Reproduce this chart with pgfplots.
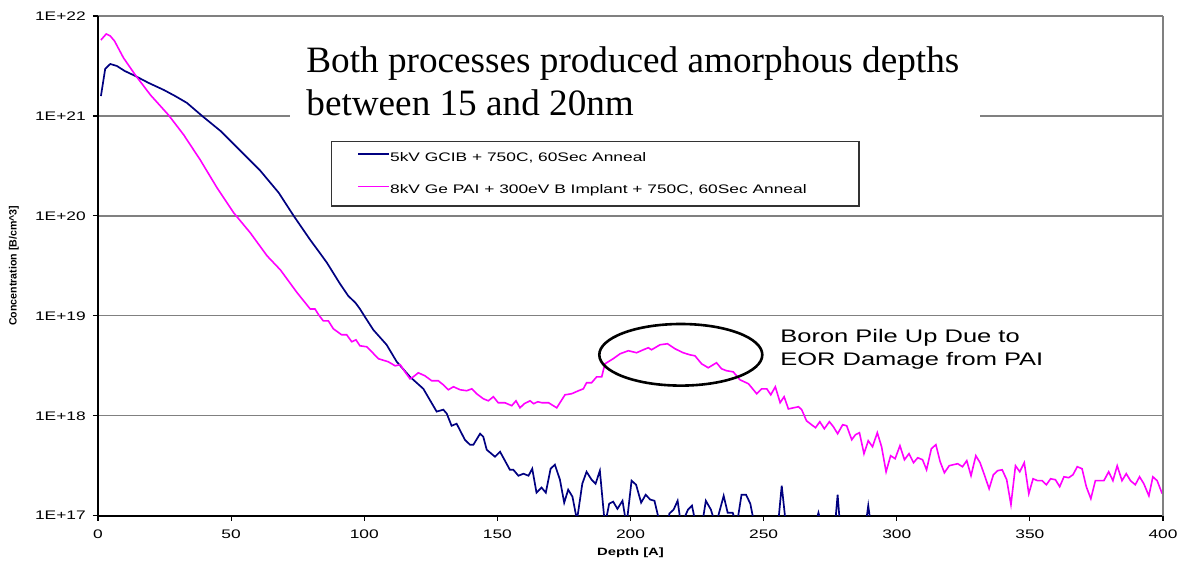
\documentclass[border=0pt]{standalone}
\usepackage{fontspec}
\setmainfont{Liberation Sans}
\usepackage{pgfplots}
\pgfplotsset{compat=1.18}
\newfontfamily\ax[FakeStretch=1.4]{Liberation Sans}
\newfontfamily\tnr{Liberation Serif}
\definecolor{navyc}{RGB}{0,0,128}
\definecolor{magc}{RGB}{255,0,255}
\definecolor{grd}{RGB}{128,128,128}

\pgfplotstableread{
x y
1.1 1.58e21
2.7 2.95e21
4.6 3.31e21
7.1 3.16e21
10 2.82e21
14 2.51e21
19 2.14e21
24.7 1.82e21
29 1.58e21
33.4 1.35e21
39.1 1.0e21
46 7.08e20
53.5 4.47e20
61 2.82e20
67.9 1.70e20
73.5 1.0e20
79.7 5.75e19
83 4.37e19
86 3.39e19
90.9 2.09e19
94 1.58e19
96.7 1.35e19
98.4 1.17e19
100 1.0e19
103.4 7.24e18
108.4 5.13e18
112.2 3.47e18
117.2 2.45e18
122.2 1.86e18
127.2 1.10e18
129.7 1.15e18
131 1.05e18
132.8 7.94e17
134.7 8.32e17
137.8 5.75e17
139.7 5.13e17
141 5.13e17
143.5 6.61e17
144.7 6.17e17
146 4.57e17
149.1 3.89e17
151 4.37e17
154.7 2.88e17
156 2.88e17
157.9 2.51e17
159.8 2.63e17
161.7 2.51e17
163.1 2.95e17
164.7 1.70e17
166.6 1.91e17
168.2 1.70e17
170 2.95e17
171.6 3.24e17
173.5 2.29e17
175.1 1.35e17
176.6 1.82e17
178.2 1.55e17
179.9 9e16
181.9 2.09e17
183.5 2.75e17
185.4 2.29e17
186.9 2.09e17
188.5 2.82e17
190.4 8e16
192 1.32e17
193.5 1.38e17
195.1 1.17e17
197 1.41e17
198.5 8e16
200.4 2.24e17
202.1 2.04e17
204 1.35e17
205.7 1.62e17
207.4 1.45e17
209 1.41e17
211.2 8e16
213 6e16
214.6 1.05e17
216.2 1.15e17
217.7 1.41e17
219 8e16
221.6 1.15e17
223.1 1.26e17
224.6 8e16
226.5 7e16
228.3 1.41e17
230.2 1.15e17
232 8e16
235 1.58e17
236.5 1.07e17
238.4 1.07e17
239.9 8e16
241.7 1.62e17
243.4 1.62e17
245 1.32e17
246.6 8e16
248.5 5e16
251 6e16
253.5 5e16
255.4 8e16
256.8 2.0e17
258.4 8e16
260 5e16
264 6e16
269.3 8e16
270.6 1.07e17
271.8 8e16
274 5e16
276.8 8e16
277.8 1.62e17
278.7 8e16
281 5e16
284 6e16
288.3 8e16
289.3 1.26e17
290.3 8e16
293 5e16
296 6e16
300 5e16
}\gcib

\pgfplotstableread{
x y
1.1 5.75e21
3.1 6.61e21
4.6 6.31e21
6.2 5.62e21
9.6 3.80e21
14 2.57e21
19.7 1.62e21
26.5 1.02e21
32.2 6.46e20
38.4 3.63e20
44.7 1.91e20
51 1.07e20
57.2 6.76e19
63.5 3.98e19
68.5 2.88e19
74.8 1.70e19
79.7 1.17e19
81.5 1.17e19
82.9 1.02e19
84.6 8.91e18
86.5 8.91e18
88.4 7.41e18
91.5 6.46e18
93.4 6.46e18
95.3 5.50e18
96.9 5.75e18
98.4 5.01e18
100.9 4.90e18
102.8 4.37e18
105.3 3.72e18
109 3.47e18
111.6 3.16e18
113.5 3.24e18
115.3 2.75e18
117.2 2.34e18
118.4 2.45e18
120.3 2.69e18
122.8 2.51e18
125.3 2.24e18
127.8 2.24e18
129.7 2.04e18
131.6 1.82e18
133.5 1.95e18
136 1.82e18
138.5 1.78e18
140.4 1.86e18
142.2 1.66e18
144.7 1.48e18
146.6 1.41e18
148.5 1.55e18
150.3 1.35e18
152.8 1.35e18
155.4 1.26e18
157 1.41e18
158.5 1.20e18
160.1 1.32e18
162.3 1.41e18
163.6 1.32e18
165.2 1.38e18
166.7 1.35e18
169.2 1.35e18
172.3 1.20e18
175.4 1.62e18
177.9 1.66e18
180.5 1.78e18
182.3 1.86e18
183.5 2.14e18
185.4 2.14e18
187.3 2.45e18
189.2 2.45e18
190.4 3.31e18
193.5 3.72e18
196.1 4.17e18
199.2 4.47e18
202.3 4.27e18
204.8 4.57e18
206.7 4.79e18
207.9 4.57e18
211.1 5.13e18
213.9 5.25e18
216.7 4.68e18
219.8 4.27e18
222.3 4.07e18
224.2 3.98e18
226.7 3.31e18
229.2 3.02e18
232.3 3.39e18
234.2 2.95e18
236.1 2.82e18
238.6 2.75e18
241.1 2.29e18
244.3 2.09e18
247.4 1.66e18
249.3 1.86e18
251.2 1.86e18
252.7 1.62e18
254.4 1.95e18
256.2 1.35e18
257.7 1.55e18
259.3 1.17e18
261.2 1.20e18
263.1 1.23e18
264.3 1.15e18
266.1 8.91e17
268 8.13e17
269.5 7.59e17
271.1 8.71e17
272.8 7.41e17
274.7 8.71e17
276.2 7.76e17
277.8 6.61e17
279.7 8.13e17
281.2 7.94e17
283.1 5.75e17
284.5 6.46e17
286 6.76e17
287.7 4.17e17
289.3 5.62e17
290.9 4.90e17
292.7 6.76e17
294.3 4.90e17
296 2.75e17
297.7 3.98e17
299.4 3.72e17
301.2 5.01e17
302.9 3.63e17
304.6 4.17e17
306.3 3.39e17
307.9 3.80e17
309.7 3.63e17
311.2 2.88e17
313 4.68e17
314.7 5.13e17
316.3 3.47e17
317.9 2.69e17
319.7 3.16e17
321.3 3.24e17
322.9 3.31e17
324.7 3.09e17
326.3 3.55e17
327.9 2.51e17
329.7 3.98e17
331.3 3.39e17
332.9 2.57e17
334.7 1.86e17
336.3 2.57e17
337.9 2.82e17
339.6 2.88e17
341.3 2.29e17
342.9 1.29e17
344.6 3.16e17
346.2 2.75e17
347.9 3.39e17
349.6 1.66e17
351.2 2.34e17
352.9 2.24e17
354.6 2.24e17
356.2 2.04e17
357.8 2.34e17
359.6 2.29e17
361.2 1.95e17
362.8 2.45e17
364.6 2.40e17
366.2 2.57e17
367.8 3.09e17
369.6 2.95e17
371.2 1.95e17
372.9 1.48e17
374.6 2.24e17
376.2 2.24e17
377.8 2.24e17
379.6 2.75e17
381.2 2.24e17
382.8 3.16e17
384.6 2.24e17
386.2 2.63e17
387.8 2.24e17
389.6 2.04e17
391.2 2.45e17
392.8 2.09e17
394.7 1.58e17
396.2 2.45e17
397.8 2.24e17
399.7 1.66e17
}\pai

\begin{document}
\begin{tikzpicture}
\begin{axis}[
  at={(0pt,0pt)}, anchor=south west,
  scale only axis, width=532.5pt, height=249.85pt,
  xmin=0, xmax=400, ymode=log, ymin=1e17, ymax=1e22,
  axis x line*=bottom, axis y line*=left,
  axis line style={-, black, line width=0.9pt},
  tick align=outside, major tick length=2.6pt,
  tick style={black, line width=0.6pt},
  yminorticks=false,
  xtick={0,50,100,150,200,250,300,350,400},
  xticklabels={0,50,100,150,200,250,300,350,400},
  ytick={1e17,1e18,1e19,1e20,1e21,1e22},
  yticklabels={1E+17,1E+18,1E+19,1E+20,1E+21,1E+22},
  ymajorgrids, grid style={grd, line width=0.7pt},
  ticklabel style={font=\ax\fontsize{6.2}{7}\selectfont},
  xticklabel style={yshift=-1pt},
  xlabel={\textbf{Depth [A]}},
  xlabel style={font=\ax\fontsize{5.3}{6}\selectfont, at={(axis description cs:0.5,-0.0746)}, anchor=center},
  ylabel={\textbf{Concentration [B/cm\textasciicircum 3]}},
  ylabel style={font=\fontsize{5.3}{6}\selectfont, at={(axis description cs:-0.0789,0.5)}, anchor=center, rotate=0},
  legend style={at={(axis description cs:0.2432,0.7278)}, anchor=north west, draw=none, fill=none, inner sep=0pt,
    font=\ax\fontsize{6.2}{7}\selectfont, row sep=10.5pt,
    nodes={inner sep=0pt, text height=4.5pt, text depth=1.3pt}},
  legend cell align=left,
  legend image code/.code={\draw[#1] (0pt,2.2pt) -- (15.5pt,2.2pt);},
]
\addplot[navyc, line width=0.85pt] table[x=x,y=y] {\gcib};
\addlegendentry{5kV GCIB + 750C, 60Sec Anneal}
\addplot[magc, line width=0.8pt] table[x=x,y=y] {\pai};
\addlegendentry{8kV Ge PAI + 300eV B Implant + 750C, 60Sec Anneal}
\end{axis}
\draw[grd, line width=0.7pt] (532.5pt,0pt) -- (532.5pt,249.85pt);
\draw[black!80, line width=0.6pt] (116.85pt,154.85pt) rectangle (380.5pt,187.1pt);
\fill[white] (96pt,192.85pt) rectangle (441pt,242.85pt);
\node[anchor=base west, inner sep=0pt, font=\tnr\fontsize{18.6}{21}\selectfont] at (104pt,221.5pt) {Both processes produced amorphous depths};
\node[anchor=base west, inner sep=0pt, font=\tnr\fontsize{18.6}{21}\selectfont] at (104pt,199.85pt) {between 15 and 20nm};
\draw[black, line width=1.3pt] (291.4pt,80.45pt) ellipse [x radius=40.75pt, y radius=15.4pt];
\node[anchor=base west, inner sep=0pt, font=\ax\fontsize{9.1}{11}\selectfont] at (341pt,86.5pt) {Boron Pile Up Due to};
\node[anchor=base west, inner sep=0pt, font=\ax\fontsize{9.1}{11}\selectfont] at (341pt,75.35pt) {EOR Damage from PAI};
\pgfresetboundingbox
\path (-49pt,-23.65pt) rectangle (541pt,257.85pt);
\end{tikzpicture}
\end{document}
